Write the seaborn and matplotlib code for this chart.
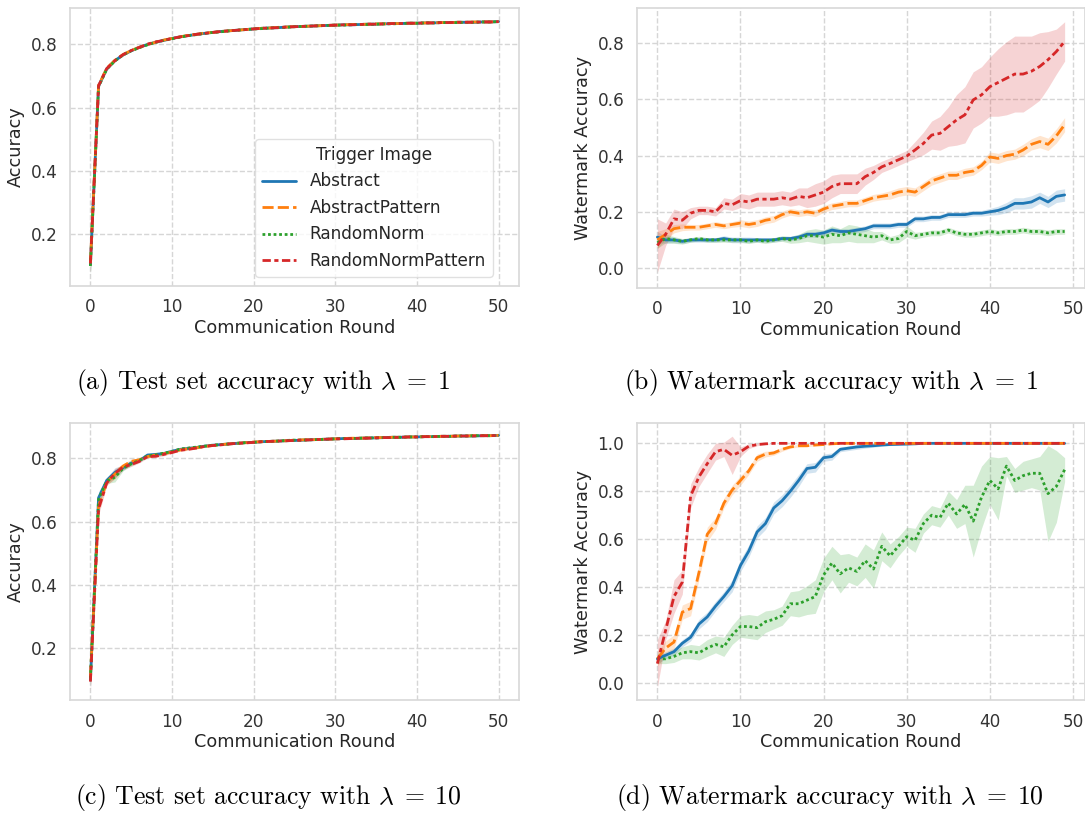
import pandas as pd
import seaborn as sns
import matplotlib.pyplot as plt

# ---------------------------------------------------------------- data
TRIGGERS = ["Abstract", "AbstractPattern", "RandomNorm", "RandomNormPattern"]

# (a) test-set accuracy, lambda = 1, rounds 0..50
test_l1_abstract = [0.105, 0.668, 0.722, 0.748, 0.766, 0.779, 0.790, 0.799, 0.806, 0.812,
                    0.818, 0.823, 0.827, 0.831, 0.834, 0.837, 0.840, 0.842, 0.844, 0.846,
                    0.848, 0.850, 0.851, 0.852, 0.854, 0.855, 0.856, 0.857, 0.858, 0.859,
                    0.860, 0.861, 0.861, 0.862, 0.863, 0.863, 0.864, 0.865, 0.865, 0.866,
                    0.866, 0.867, 0.867, 0.868, 0.868, 0.869, 0.869, 0.869, 0.870, 0.870,
                    0.871]
test_l1_abstractpattern = [0.110, 0.670, 0.724, 0.749, 0.767, 0.780, 0.790, 0.799, 0.806, 0.813,
                           0.818, 0.823, 0.828, 0.831, 0.835, 0.837, 0.840, 0.842, 0.844, 0.846,
                           0.848, 0.850, 0.851, 0.853, 0.854, 0.855, 0.856, 0.857, 0.858, 0.859,
                           0.860, 0.861, 0.862, 0.862, 0.863, 0.864, 0.864, 0.865, 0.865, 0.866,
                           0.866, 0.867, 0.867, 0.868, 0.868, 0.869, 0.869, 0.870, 0.870, 0.870,
                           0.871]
test_l1_randomnorm = [0.100, 0.666, 0.721, 0.747, 0.766, 0.779, 0.789, 0.798, 0.806, 0.812,
                      0.817, 0.822, 0.827, 0.830, 0.834, 0.837, 0.839, 0.842, 0.844, 0.846,
                      0.848, 0.849, 0.851, 0.852, 0.853, 0.855, 0.856, 0.857, 0.858, 0.859,
                      0.860, 0.860, 0.861, 0.862, 0.862, 0.863, 0.864, 0.864, 0.865, 0.866,
                      0.866, 0.867, 0.867, 0.868, 0.868, 0.868, 0.869, 0.869, 0.870, 0.870,
                      0.871]
test_l1_randomnormpattern = [0.108, 0.669, 0.723, 0.748, 0.767, 0.780, 0.790, 0.800, 0.807, 0.812,
                             0.818, 0.823, 0.827, 0.831, 0.834, 0.837, 0.840, 0.842, 0.844, 0.846,
                             0.848, 0.850, 0.851, 0.852, 0.854, 0.855, 0.856, 0.857, 0.858, 0.859,
                             0.860, 0.861, 0.861, 0.862, 0.863, 0.863, 0.864, 0.865, 0.865, 0.866,
                             0.866, 0.867, 0.867, 0.868, 0.868, 0.869, 0.869, 0.869, 0.870, 0.870,
                             0.871]
test_l1_spread = [0.030, 0.006, 0.004, 0.003, 0.003, 0.002, 0.002, 0.002, 0.002, 0.002,
                  0.002, 0.002, 0.002, 0.002, 0.002, 0.002, 0.002, 0.002, 0.002, 0.002,
                  0.002, 0.002, 0.002, 0.002, 0.002, 0.002, 0.002, 0.002, 0.002, 0.002,
                  0.002, 0.002, 0.002, 0.002, 0.002, 0.002, 0.002, 0.002, 0.002, 0.002,
                  0.002, 0.002, 0.002, 0.002, 0.002, 0.002, 0.002, 0.002, 0.002, 0.002,
                  0.002]

# (c) test-set accuracy, lambda = 10, rounds 0..50
test_l10_abstract = [0.100, 0.675, 0.730, 0.755, 0.770, 0.785, 0.792, 0.810, 0.812, 0.815,
                     0.822, 0.828, 0.831, 0.834, 0.838, 0.841, 0.843, 0.845, 0.847, 0.849,
                     0.850, 0.852, 0.853, 0.854, 0.855, 0.856, 0.857, 0.858, 0.859, 0.860,
                     0.861, 0.862, 0.862, 0.863, 0.864, 0.864, 0.865, 0.866, 0.866, 0.867,
                     0.867, 0.868, 0.868, 0.869, 0.869, 0.870, 0.870, 0.870, 0.871, 0.871,
                     0.872]
test_l10_abstractpattern = [0.110, 0.650, 0.725, 0.750, 0.775, 0.790, 0.795, 0.805, 0.810, 0.814,
                            0.820, 0.826, 0.830, 0.833, 0.837, 0.840, 0.843, 0.845, 0.847, 0.849,
                            0.851, 0.852, 0.853, 0.854, 0.855, 0.857, 0.858, 0.858, 0.859, 0.860,
                            0.861, 0.862, 0.863, 0.863, 0.864, 0.865, 0.865, 0.866, 0.866, 0.867,
                            0.867, 0.868, 0.868, 0.869, 0.869, 0.870, 0.870, 0.871, 0.871, 0.871,
                            0.872]
test_l10_randomnorm = [0.105, 0.670, 0.728, 0.740, 0.768, 0.782, 0.793, 0.808, 0.810, 0.816,
                       0.821, 0.829, 0.832, 0.835, 0.838, 0.841, 0.843, 0.845, 0.847, 0.849,
                       0.850, 0.852, 0.853, 0.854, 0.856, 0.857, 0.857, 0.858, 0.859, 0.860,
                       0.861, 0.862, 0.862, 0.863, 0.864, 0.864, 0.865, 0.866, 0.866, 0.867,
                       0.867, 0.868, 0.868, 0.869, 0.869, 0.870, 0.870, 0.871, 0.871, 0.871,
                       0.872]
test_l10_randomnormpattern = [0.095, 0.640, 0.722, 0.752, 0.772, 0.780, 0.790, 0.805, 0.806, 0.812,
                              0.818, 0.825, 0.828, 0.832, 0.837, 0.840, 0.842, 0.845, 0.847, 0.848,
                              0.850, 0.852, 0.853, 0.854, 0.855, 0.856, 0.857, 0.858, 0.859, 0.860,
                              0.861, 0.861, 0.862, 0.863, 0.863, 0.864, 0.865, 0.865, 0.866, 0.867,
                              0.867, 0.868, 0.868, 0.869, 0.869, 0.870, 0.870, 0.870, 0.871, 0.871,
                              0.872]
test_l10_spread = [0.030, 0.020, 0.008, 0.015, 0.008, 0.006, 0.005, 0.004, 0.004, 0.004,
                   0.003, 0.003, 0.003, 0.003, 0.002, 0.002, 0.002, 0.002, 0.002, 0.002,
                   0.002, 0.002, 0.002, 0.002, 0.002, 0.002, 0.002, 0.002, 0.002, 0.002,
                   0.002, 0.002, 0.002, 0.002, 0.002, 0.002, 0.002, 0.002, 0.002, 0.002,
                   0.002, 0.002, 0.002, 0.002, 0.002, 0.002, 0.002, 0.002, 0.002, 0.002,
                   0.002]

# (b) watermark accuracy, lambda = 1, rounds 0..49 (mean and half-width of the band)
wm_l1_abstract = [0.110, 0.100, 0.100, 0.095, 0.100, 0.100, 0.100, 0.100, 0.105, 0.100,
                  0.100, 0.100, 0.100, 0.100, 0.100, 0.105, 0.105, 0.110, 0.120, 0.120,
                  0.125, 0.135, 0.130, 0.130, 0.135, 0.140, 0.150, 0.150, 0.150, 0.155,
                  0.155, 0.175, 0.175, 0.180, 0.180, 0.190, 0.190, 0.190, 0.195, 0.195,
                  0.200, 0.205, 0.215, 0.230, 0.230, 0.235, 0.250, 0.235, 0.255, 0.260]
wm_l1_abstract_sd = [0.020, 0.012, 0.010, 0.008, 0.008, 0.008, 0.008, 0.008, 0.010, 0.010,
                     0.010, 0.010, 0.008, 0.008, 0.008, 0.008, 0.008, 0.010, 0.010, 0.010,
                     0.010, 0.010, 0.010, 0.010, 0.010, 0.010, 0.010, 0.010, 0.010, 0.010,
                     0.010, 0.010, 0.010, 0.010, 0.010, 0.010, 0.010, 0.010, 0.010, 0.010,
                     0.012, 0.015, 0.018, 0.020, 0.020, 0.022, 0.020, 0.020, 0.022, 0.022]
wm_l1_abstractpattern = [0.100, 0.120, 0.140, 0.145, 0.145, 0.145, 0.150, 0.155, 0.150, 0.155,
                         0.160, 0.155, 0.160, 0.170, 0.175, 0.190, 0.200, 0.195, 0.200, 0.195,
                         0.210, 0.220, 0.225, 0.230, 0.230, 0.240, 0.250, 0.255, 0.260, 0.270,
                         0.275, 0.270, 0.290, 0.310, 0.320, 0.330, 0.330, 0.340, 0.345, 0.365,
                         0.395, 0.390, 0.400, 0.405, 0.420, 0.440, 0.450, 0.440, 0.470, 0.510]
wm_l1_abstractpattern_sd = [0.030, 0.020, 0.015, 0.012, 0.010, 0.010, 0.010, 0.010, 0.010, 0.010,
                            0.012, 0.012, 0.012, 0.012, 0.012, 0.012, 0.012, 0.012, 0.012, 0.012,
                            0.012, 0.012, 0.012, 0.012, 0.012, 0.012, 0.012, 0.012, 0.015, 0.015,
                            0.015, 0.015, 0.015, 0.015, 0.015, 0.015, 0.015, 0.015, 0.015, 0.015,
                            0.018, 0.018, 0.018, 0.018, 0.020, 0.020, 0.022, 0.022, 0.025, 0.025]
wm_l1_randomnorm = [0.090, 0.105, 0.100, 0.095, 0.100, 0.105, 0.100, 0.100, 0.100, 0.100,
                    0.100, 0.095, 0.100, 0.095, 0.100, 0.105, 0.100, 0.105, 0.115, 0.115,
                    0.110, 0.120, 0.115, 0.125, 0.120, 0.115, 0.110, 0.115, 0.100, 0.105,
                    0.130, 0.115, 0.120, 0.125, 0.125, 0.135, 0.125, 0.120, 0.120, 0.125,
                    0.130, 0.125, 0.130, 0.130, 0.135, 0.130, 0.130, 0.125, 0.130, 0.130]
wm_l1_randomnorm_sd = [0.020, 0.015, 0.012, 0.010, 0.008, 0.008, 0.008, 0.008, 0.008, 0.008,
                       0.008, 0.008, 0.008, 0.008, 0.008, 0.010, 0.012, 0.015, 0.020, 0.025,
                       0.025, 0.030, 0.025, 0.030, 0.030, 0.025, 0.020, 0.015, 0.012, 0.015,
                       0.020, 0.012, 0.010, 0.010, 0.010, 0.010, 0.010, 0.010, 0.010, 0.010,
                       0.010, 0.010, 0.010, 0.010, 0.010, 0.010, 0.010, 0.010, 0.010, 0.010]
wm_l1_randomnormpattern = [0.080, 0.120, 0.175, 0.170, 0.195, 0.205, 0.205, 0.200, 0.230, 0.225,
                           0.240, 0.235, 0.245, 0.245, 0.245, 0.250, 0.245, 0.255, 0.250, 0.260,
                           0.270, 0.290, 0.300, 0.300, 0.300, 0.325, 0.340, 0.360, 0.372, 0.385,
                           0.398, 0.420, 0.443, 0.473, 0.479, 0.503, 0.527, 0.545, 0.598, 0.616,
                           0.645, 0.660, 0.675, 0.690, 0.690, 0.700, 0.717, 0.741, 0.770, 0.806]
wm_l1_randomnormpattern_sd = [0.095, 0.040, 0.035, 0.030, 0.020, 0.015, 0.015, 0.015, 0.020, 0.020,
                              0.025, 0.025, 0.025, 0.025, 0.025, 0.025, 0.025, 0.030, 0.035, 0.040,
                              0.040, 0.040, 0.035, 0.035, 0.035, 0.030, 0.025, 0.020, 0.020, 0.020,
                              0.020, 0.030, 0.040, 0.050, 0.060, 0.070, 0.090, 0.100, 0.100, 0.100,
                              0.105, 0.120, 0.130, 0.135, 0.135, 0.125, 0.120, 0.100, 0.080, 0.070]

# (d) watermark accuracy, lambda = 10, rounds 0..49
wm_l10_abstract = [0.100, 0.115, 0.130, 0.165, 0.190, 0.245, 0.275, 0.320, 0.360, 0.405,
                   0.490, 0.550, 0.630, 0.665, 0.730, 0.760, 0.800, 0.845, 0.895, 0.900,
                   0.940, 0.945, 0.975, 0.980, 0.985, 0.988, 0.990, 0.993, 0.995, 0.996,
                   0.997, 0.998, 1.000, 1.000, 1.000, 1.000, 1.000, 1.000, 1.000, 1.000,
                   1.000, 1.000, 1.000, 1.000, 1.000, 1.000, 1.000, 1.000, 1.000, 1.000]
wm_l10_abstract_sd = [0.020, 0.015, 0.015, 0.015, 0.015, 0.020, 0.020, 0.020, 0.020, 0.025,
                      0.025, 0.025, 0.025, 0.025, 0.025, 0.025, 0.025, 0.025, 0.020, 0.020,
                      0.015, 0.015, 0.010, 0.010, 0.010, 0.008, 0.006, 0.005, 0.004, 0.003,
                      0.003, 0.002, 0.000, 0.000, 0.000, 0.000, 0.000, 0.000, 0.000, 0.000,
                      0.000, 0.000, 0.000, 0.000, 0.000, 0.000, 0.000, 0.000, 0.000, 0.000]
wm_l10_abstractpattern = [0.100, 0.145, 0.170, 0.295, 0.310, 0.460, 0.620, 0.665, 0.750, 0.805,
                          0.845, 0.885, 0.940, 0.955, 0.960, 0.975, 0.985, 0.990, 0.990, 0.993,
                          0.995, 0.998, 1.000, 1.000, 1.000, 1.000, 1.000, 1.000, 1.000, 1.000,
                          1.000, 1.000, 1.000, 1.000, 1.000, 1.000, 1.000, 1.000, 1.000, 1.000,
                          1.000, 1.000, 1.000, 1.000, 1.000, 1.000, 1.000, 1.000, 1.000, 1.000]
wm_l10_abstractpattern_sd = [0.030, 0.030, 0.030, 0.030, 0.030, 0.030, 0.030, 0.025, 0.020, 0.020,
                             0.020, 0.015, 0.015, 0.012, 0.010, 0.008, 0.006, 0.005, 0.004, 0.003,
                             0.002, 0.002, 0.000, 0.000, 0.000, 0.000, 0.000, 0.000, 0.000, 0.000,
                             0.000, 0.000, 0.000, 0.000, 0.000, 0.000, 0.000, 0.000, 0.000, 0.000,
                             0.000, 0.000, 0.000, 0.000, 0.000, 0.000, 0.000, 0.000, 0.000, 0.000]
wm_l10_randomnorm = [0.100, 0.100, 0.110, 0.125, 0.130, 0.125, 0.145, 0.160, 0.150, 0.200,
                     0.235, 0.235, 0.230, 0.255, 0.265, 0.280, 0.330, 0.330, 0.345, 0.360,
                     0.450, 0.500, 0.455, 0.480, 0.465, 0.510, 0.475, 0.570, 0.530, 0.570,
                     0.610, 0.595, 0.665, 0.700, 0.690, 0.750, 0.705, 0.745, 0.675, 0.775,
                     0.845, 0.810, 0.905, 0.845, 0.865, 0.875, 0.875, 0.790, 0.820, 0.890]
wm_l10_randomnorm_sd = [0.020, 0.020, 0.025, 0.025, 0.030, 0.030, 0.035, 0.035, 0.040, 0.040,
                        0.045, 0.050, 0.050, 0.045, 0.040, 0.040, 0.050, 0.055, 0.060, 0.070,
                        0.070, 0.070, 0.080, 0.060, 0.060, 0.070, 0.080, 0.060, 0.050, 0.040,
                        0.040, 0.050, 0.040, 0.040, 0.040, 0.050, 0.060, 0.080, 0.150, 0.130,
                        0.100, 0.130, 0.040, 0.050, 0.060, 0.060, 0.070, 0.200, 0.150, 0.050]
wm_l10_randomnormpattern = [0.080, 0.220, 0.360, 0.420, 0.780, 0.860, 0.915, 0.965, 0.975, 0.950,
                            0.965, 0.988, 0.995, 0.998, 1.000, 1.000, 1.000, 1.000, 1.000, 1.000,
                            1.000, 1.000, 1.000, 1.000, 1.000, 1.000, 1.000, 1.000, 1.000, 1.000,
                            1.000, 1.000, 1.000, 1.000, 1.000, 1.000, 1.000, 1.000, 1.000, 1.000,
                            1.000, 1.000, 1.000, 1.000, 1.000, 1.000, 1.000, 1.000, 1.000, 1.000]
wm_l10_randomnormpattern_sd = [0.100, 0.040, 0.070, 0.050, 0.050, 0.040, 0.040, 0.035, 0.030, 0.080,
                               0.020, 0.010, 0.005, 0.003, 0.000, 0.000, 0.000, 0.000, 0.000, 0.000,
                               0.000, 0.000, 0.000, 0.000, 0.000, 0.000, 0.000, 0.000, 0.000, 0.000,
                               0.000, 0.000, 0.000, 0.000, 0.000, 0.000, 0.000, 0.000, 0.000, 0.000,
                               0.000, 0.000, 0.000, 0.000, 0.000, 0.000, 0.000, 0.000, 0.000, 0.000]

CAPTIONS = [r"(a) Test set accuracy with $\lambda \;=\; 1$",
            r"(b) Watermark accuracy with $\lambda \;=\; 1$",
            r"(c) Test set accuracy with $\lambda \;=\; 10$",
            r"(d) Watermark accuracy with $\lambda \;=\; 10$"]

# ---------------------------------------------------------------- style
sns.set_theme(style="whitegrid", rc={"grid.linestyle": "--", "grid.color": ".84",
                                     "axes.edgecolor": ".85", "lines.linewidth": 2.0})
plt.rcParams["mathtext.fontset"] = "cm"

PALETTE = dict(zip(TRIGGERS, sns.color_palette("tab10", 4)))
DASHES = {"Abstract": "", "AbstractPattern": (4, 1.5),
          "RandomNorm": (1, 1), "RandomNormPattern": (3, 1.25, 1.5, 1.25)}

TICK_FS = 12.2
LABEL_FS = 12.7

W, H = 1085, 813
fig = plt.figure(figsize=(W / 100, H / 100), dpi=100)


def axes_px(left, right, top, bottom):
    return fig.add_axes([left / W, 1 - bottom / H, (right - left) / W, (bottom - top) / H])


def long_frame(series):
    rows = []
    for name, (mean, spread) in series.items():
        for rnd, (m, s) in enumerate(zip(mean, spread)):
            rows.append({"Communication Round": rnd, "value": m, "spread": s,
                         "Trigger Image": name})
    return pd.DataFrame(rows)


def draw(ax, df, ylabel, ylim, legend=False):
    for name in TRIGGERS:
        sub = df[df["Trigger Image"] == name]
        ax.fill_between(sub["Communication Round"], sub["value"] - sub["spread"],
                        sub["value"] + sub["spread"], color=PALETTE[name],
                        alpha=0.2, linewidth=0)
    sns.lineplot(data=df, x="Communication Round", y="value", hue="Trigger Image",
                 style="Trigger Image", palette=PALETTE, dashes=DASHES,
                 hue_order=TRIGGERS, style_order=TRIGGERS, legend=legend, ax=ax)
    ax.set_ylabel(ylabel, fontsize=LABEL_FS)
    ax.set_xlabel("Communication Round", fontsize=LABEL_FS, labelpad=2)
    ax.set_xticks([0, 10, 20, 30, 40, 50])
    ax.set_ylim(*ylim)
    ax.tick_params(labelsize=TICK_FS, colors=".2", pad=3)
    for sp in ax.spines.values():
        sp.set_color(".85")


panel_a = long_frame({
    "Abstract": (test_l1_abstract, test_l1_spread),
    "AbstractPattern": (test_l1_abstractpattern, test_l1_spread),
    "RandomNorm": (test_l1_randomnorm, test_l1_spread),
    "RandomNormPattern": (test_l1_randomnormpattern, test_l1_spread),
})
panel_b = long_frame({
    "Abstract": (wm_l1_abstract, wm_l1_abstract_sd),
    "AbstractPattern": (wm_l1_abstractpattern, wm_l1_abstractpattern_sd),
    "RandomNorm": (wm_l1_randomnorm, wm_l1_randomnorm_sd),
    "RandomNormPattern": (wm_l1_randomnormpattern, wm_l1_randomnormpattern_sd),
})
panel_c = long_frame({
    "Abstract": (test_l10_abstract, test_l10_spread),
    "AbstractPattern": (test_l10_abstractpattern, test_l10_spread),
    "RandomNorm": (test_l10_randomnorm, test_l10_spread),
    "RandomNormPattern": (test_l10_randomnormpattern, test_l10_spread),
})
panel_d = long_frame({
    "Abstract": (wm_l10_abstract, wm_l10_abstract_sd),
    "AbstractPattern": (wm_l10_abstractpattern, wm_l10_abstractpattern_sd),
    "RandomNorm": (wm_l10_randomnorm, wm_l10_randomnorm_sd),
    "RandomNormPattern": (wm_l10_randomnormpattern, wm_l10_randomnormpattern_sd),
})

ax_a = axes_px(70, 519, 8, 286)
ax_b = axes_px(637, 1085, 8, 288)
ax_c = axes_px(70, 519, 423, 700)
ax_d = axes_px(637, 1085, 423, 700)

draw(ax_a, panel_a, "Accuracy", (0.037, 0.914), legend=True)
draw(ax_b, panel_b, "Watermark Accuracy", (-0.071, 0.925))
draw(ax_c, panel_c, "Accuracy", (0.037, 0.911))
draw(ax_d, panel_d, "Watermark Accuracy", (-0.072, 1.085))

sns.move_legend(ax_a, "lower right", bbox_to_anchor=(0.962, 0.0), frameon=True,
                title="Trigger Image", fontsize=TICK_FS, title_fontsize=TICK_FS,
                borderaxespad=0.55, edgecolor=".85")
leg = ax_a.get_legend()
for txt in leg.get_texts():
    txt.set_color(".15")
leg.get_title().set_color(".15")

for (cx, cy), text in zip([(263, 382), (831, 382), (268, 797), (830, 797)], CAPTIONS):
    fig.text(cx / W, 1 - cy / H, text, family="cmr10", fontsize=18.5,
             ha="center", va="center", color="black")

fig.savefig("out.png", dpi=100)
